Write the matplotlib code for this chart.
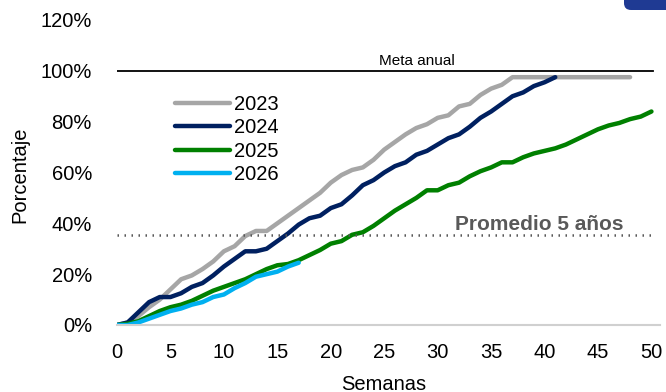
import numpy as np
import matplotlib
matplotlib.use("Agg")
import matplotlib.pyplot as plt
from matplotlib.patches import FancyBboxPatch
from matplotlib.transforms import IdentityTransform
from matplotlib.ticker import FuncFormatter

plt.rcParams['font.family'] = ['Liberation Sans', 'DejaVu Sans']

# avance acumulado por semana (% de la meta anual)
v2023 = [0, 1, 3.5, 7, 10, 14, 18, 19.5, 22, 25, 29, 31, 35, 37, 37, 40, 43, 46, 49, 52,
         56, 59, 61, 62, 65, 69, 72, 75, 77.5, 79, 81.5, 82.5, 86, 87, 90.5, 93, 94.5,
         97.5, 97.5, 97.5, 97.5, 97.5, 97.5, 97.5, 97.5, 97.5, 97.5, 97.5, 97.5]
v2024 = [0, 1, 5, 9, 11, 11, 12.5, 15, 16.5, 19.5, 23, 26, 29, 29, 30, 33, 36, 39.5, 42,
         43, 46, 47.5, 51, 55, 57, 60, 62.5, 64, 67, 68.5, 71, 73.5, 75, 78, 81.5, 84,
         87, 90, 91.5, 94, 95.5, 97.5]
v2025 = [0, 0.5, 1.5, 3.5, 5.5, 7, 8, 9.5, 11.5, 13.5, 15, 16.5, 18, 20, 22, 23.5, 24,
         25.5, 27.5, 29.5, 32, 33, 35.5, 36.5, 39, 42, 45, 47.5, 50, 53, 53, 55, 56,
         58.5, 60.5, 62, 64, 64, 66, 67.5, 68.5, 69.5, 71, 73, 75, 77, 78.5, 79.5, 81,
         82, 84]
v2026 = [0, 0, 1, 2.5, 4, 5.5, 6.5, 8, 9, 11, 12, 14.5, 16.5, 19, 20, 21, 23, 24.5]

series = [("2023", v2023, "#a6a6a6"),
          ("2024", v2024, "#002060"),
          ("2025", v2025, "#008000"),
          ("2026", v2026, "#00b0f0")]

meta = 100
promedio = 35.5

fig = plt.figure(figsize=(6.66, 3.92), dpi=100)
ax = fig.add_axes([117/666, 1-325/392, 543/666, 305/392])

for nombre, vals, color in series:
    ax.plot(np.arange(len(vals)), np.array(vals)/100, color=color, lw=3.2,
            solid_capstyle='round', label=nombre)

ax.plot([0, 50.1], [meta/100]*2, color='black', lw=1.3)
ax.text(28.1, meta/100 + 0.012, "Meta anual", ha='center', va='bottom', fontsize=11)
ax.plot([0, 50], [promedio/100]*2, color='#595959', lw=1.8, ls=(0, (0.6, 2.2)))
ax.text(47.4, 0.374, "Promedio 5 años", ha='right', va='baseline',
        fontsize=15, fontweight='bold', color='#595959')

ax.set_xlim(0, 50.8)
ax.set_ylim(0, 1.2)
ax.set_xticks(range(0, 51, 5))
ax.set_yticks(np.arange(0, 1.21, 0.2))
ax.yaxis.set_major_formatter(FuncFormatter(lambda v, p: f"{v*100:.0f}%"))
ax.tick_params(length=0, labelsize=14.5)
ax.tick_params(axis='y', pad=18)
ax.tick_params(axis='x', pad=13)
for s in ['top', 'right', 'left']:
    ax.spines[s].set_visible(False)
ax.spines['bottom'].set_color('#d0d0d0')
ax.spines['bottom'].set_linewidth(1.5)

ax.legend(loc='upper left', bbox_to_anchor=((175-117)/543, (325-95)/305),
          frameon=False, fontsize=14.5, handlelength=2.75, handletextpad=0.2,
          labelspacing=0.22, borderpad=0, borderaxespad=0)

fig.text(20/666, 1-175/392, "Porcentaje", rotation=90, ha='center', va='center',
         fontsize=14.5)
fig.text(384/666, 1-384/392, "Semanas", ha='center', va='center', fontsize=14.5)

# recuadro azul en la esquina
fig.add_artist(FancyBboxPatch((624, 382), 80, 30,
                              boxstyle="round,pad=0,rounding_size=7",
                              transform=IdentityTransform(),
                              facecolor='#1f3a93', edgecolor='none'))

fig.savefig("out.png", dpi=100)
